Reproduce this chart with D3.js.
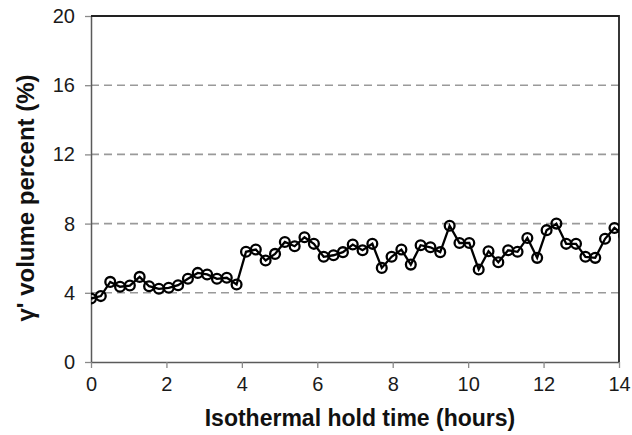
<!DOCTYPE html>
<html>
<head>
<meta charset="utf-8">
<script src="https://cdn.jsdelivr.net/npm/d3@7"></script>
<style>
  html, body { margin: 0; padding: 0; background: #fff; }
  svg { display: block; }
  text { font-family: "Liberation Sans", Arial, sans-serif; }
</style>
</head>
<body>
<svg id="chart" width="632" height="435"></svg>
<script>
// Hold time (hours) of each measurement
const holdHours = [
  0.00, 0.26, 0.51, 0.77, 1.03, 1.29, 1.54, 1.80, 2.06, 2.31,
  2.57, 2.83, 3.08, 3.34, 3.60, 3.86, 4.11, 4.37, 4.63, 4.88,
  5.14, 5.40, 5.66, 5.91, 6.17, 6.43, 6.68, 6.94, 7.20, 7.46,
  7.71, 7.97, 8.23, 8.48, 8.74, 9.00, 9.26, 9.51, 9.77, 10.03,
  10.28, 10.54, 10.80, 11.06, 11.31, 11.57, 11.83, 12.08, 12.34, 12.60,
  12.86, 13.11, 13.37, 13.63, 13.88, 14.14
];
// Measured gamma-prime volume fraction (%)
const volumePercent = [
  3.67, 3.81, 4.63, 4.35, 4.42, 4.92, 4.38, 4.23, 4.29, 4.44,
  4.81, 5.15, 5.06, 4.81, 4.87, 4.48, 6.37, 6.50, 5.87, 6.25,
  6.94, 6.69, 7.21, 6.83, 6.08, 6.17, 6.35, 6.79, 6.46, 6.83,
  5.44, 6.08, 6.50, 5.63, 6.75, 6.63, 6.35, 7.88, 6.88, 6.88,
  5.35, 6.40, 5.77, 6.46, 6.37, 7.17, 6.02, 7.62, 8.00, 6.83,
  6.83, 6.08, 6.02, 7.12, 7.75, 7.30
];
const xTicks = [0, 2, 4, 6, 8, 10, 12, 14];
const yTicks = [0, 4, 8, 12, 16, 20];
const yGridValues = [4, 8, 12, 16];
const xTitle = "Isothermal hold time (hours)";
const yTitle = "γ' volume percent (%)";

const svg = d3.select("#chart");
const plot = { left: 91, right: 619, top: 16, bottom: 362 };

const x = d3.scaleLinear().domain([0, 14]).range([plot.left, plot.right]);
const y = d3.scaleLinear().domain([0, 20]).range([plot.bottom, plot.top]);

// Dashed horizontal gridlines
svg.append("g")
  .selectAll("line")
  .data(yGridValues)
  .join("line")
  .attr("x1", plot.left).attr("x2", plot.right)
  .attr("y1", d => y(d)).attr("y2", d => y(d))
  .attr("stroke", "#9a9a9a")
  .attr("stroke-width", 1.6)
  .attr("stroke-dasharray", "8,5");

// Axes
const axisColor = "#5a5a5a";
const yAxis = svg.append("g")
  .attr("transform", `translate(${plot.left},0)`)
  .call(d3.axisLeft(y).tickValues(yTicks).tickSize(6).tickPadding(10).tickSizeOuter(0));
const xAxis = svg.append("g")
  .attr("transform", `translate(0,${plot.bottom})`)
  .call(d3.axisBottom(x).tickValues(xTicks).tickSize(6).tickPadding(9).tickSizeOuter(0));

[xAxis, yAxis].forEach(g => {
  g.select(".domain").attr("stroke", axisColor).attr("stroke-width", 1.5);
  g.selectAll(".tick line").attr("stroke", "#8a8a8a").attr("stroke-width", 1.3);
  g.selectAll(".tick text")
    .attr("font-size", 20)
    .attr("fill", "#1a1a1a")
    .style("font-family", "'Liberation Sans', Arial, sans-serif");
});

// Top and right frame of the plot area
svg.append("path")
  .attr("d", `M${plot.left},${plot.top}H${plot.right}V${plot.bottom}`)
  .attr("fill", "none")
  .attr("stroke", "#222")
  .attr("stroke-width", 1.8);

// Clip the series to the plot area
svg.append("clipPath").attr("id", "plot-clip")
  .append("rect")
  .attr("x", plot.left).attr("y", plot.top)
  .attr("width", plot.right - plot.left).attr("height", plot.bottom - plot.top);

const points = holdHours.map((h, i) => ({ h, v: volumePercent[i] }));

const series = svg.append("g").attr("clip-path", "url(#plot-clip)");
series.append("path")
  .datum(points)
  .attr("fill", "none")
  .attr("stroke", "#000")
  .attr("stroke-width", 2.3)
  .attr("d", d3.line().x(d => x(d.h)).y(d => y(d.v)));

series.selectAll("circle")
  .data(points)
  .join("circle")
  .attr("cx", d => x(d.h))
  .attr("cy", d => y(d.v))
  .attr("r", 4.9)
  .attr("fill", "none")
  .attr("stroke", "#000")
  .attr("stroke-width", 2.3);

// Axis titles
svg.append("text")
  .attr("x", 360)
  .attr("y", 426)
  .attr("text-anchor", "middle")
  .attr("font-size", 23)
  .attr("font-weight", "bold")
  .attr("fill", "#111")
  .text(xTitle);

svg.append("text")
  .attr("transform", `translate(34,198) rotate(-90)`)
  .attr("text-anchor", "middle")
  .attr("font-size", 24)
  .attr("font-weight", "bold")
  .attr("fill", "#111")
  .text(yTitle);
</script>
</body>
</html>
